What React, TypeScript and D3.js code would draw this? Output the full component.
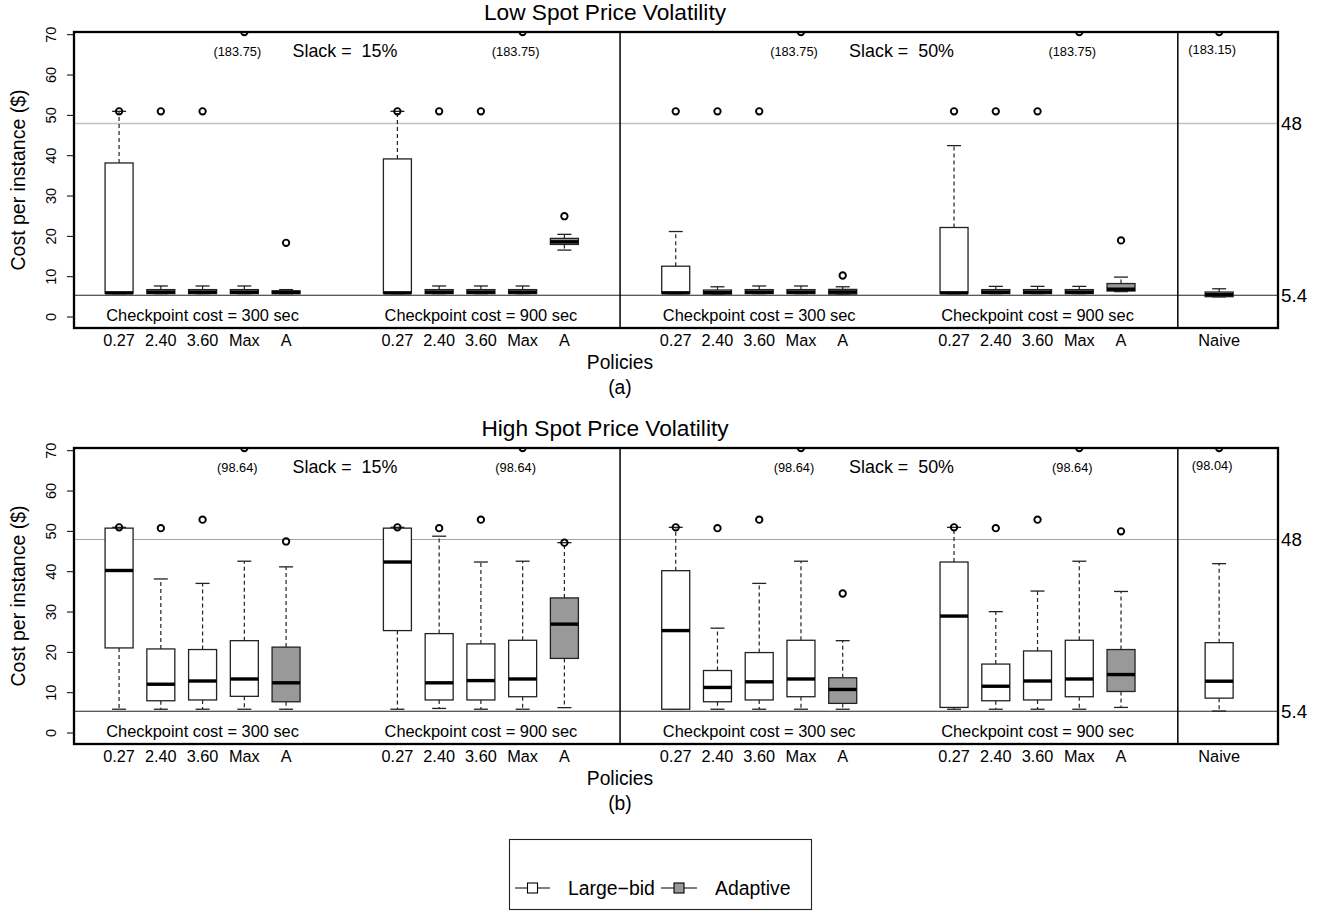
import React from "react";
import * as d3 from "d3";

// ---------- data ----------
const policies = ["0.27", "2.40", "3.60", "Max", "A"];
const checkpointLabels = [
  "Checkpoint cost = 300 sec",
  "Checkpoint cost = 900 sec",
  "Checkpoint cost = 300 sec",
  "Checkpoint cost = 900 sec",
];
const slackLabels = ["Slack =  15%", "Slack =  50%"];
const naiveLabel = "Naive";
const yTicks = [0, 10, 20, 30, 40, 50, 60, 70];
const upperRef = 48;
const lowerRef = 5.4;
const seriesNames = ["Large\u2212bid", "Adaptive"];
const panelTitles = ["Low Spot Price Volatility", "High Spot Price Volatility"];
const panelTags = ["(a)", "(b)"];
const xTitle = "Policies";
const yTitle = "Cost per instance ($)";

// box stats: [lower whisker, Q1, median, Q3, upper whisker]; 4 groups x 5 policies, then Naive
const lowVolStats = [
  [5.8, 5.9, 6.0, 38.2, 51.0],
  [5.8, 5.8, 6.2, 6.8, 7.7],
  [5.8, 5.8, 6.2, 6.8, 7.7],
  [5.8, 5.8, 6.2, 6.8, 7.7],
  [5.8, 5.8, 6.1, 6.5, 6.8],

  [5.8, 5.9, 6.0, 39.2, 51.0],
  [5.8, 5.8, 6.2, 6.8, 7.7],
  [5.8, 5.8, 6.2, 6.8, 7.7],
  [5.8, 5.8, 6.2, 6.8, 7.7],
  [16.6, 18.0, 18.65, 19.5, 20.5],

  [5.8, 5.9, 6.0, 12.6, 21.2],
  [5.7, 5.7, 6.1, 6.7, 7.5],
  [5.8, 5.8, 6.2, 6.8, 7.7],
  [5.8, 5.8, 6.2, 6.8, 7.7],
  [5.7, 5.7, 6.2, 6.85, 7.5],

  [5.8, 5.9, 6.0, 22.2, 42.5],
  [5.8, 5.8, 6.2, 6.8, 7.6],
  [5.8, 5.8, 6.2, 6.8, 7.6],
  [5.8, 5.8, 6.2, 6.8, 7.6],
  [6.3, 6.45, 6.9, 8.3, 9.9],

  [5.0, 5.05, 5.6, 6.2, 7.0],
];
const lowVolOutliers = [
  [51], [51], [51], [183.75], [18.4],
  [51], [51], [51], [183.75], [25.0],
  [51], [51], [51], [183.75], [10.3],
  [51], [51], [51], [183.75], [19.0],
  [183.15],
];

const highVolStats = [
  [5.9, 21.1, 40.3, 50.8, 51.0],
  [5.9, 8.0, 12.1, 20.85, 38.2],
  [5.9, 8.2, 12.9, 20.7, 37.1],
  [5.9, 9.1, 13.4, 22.9, 42.6],
  [5.9, 7.75, 12.45, 21.3, 41.2],

  [5.9, 25.4, 42.4, 50.8, 51.0],
  [6.1, 8.2, 12.45, 24.65, 48.8],
  [5.9, 8.2, 13.0, 22.1, 42.4],
  [5.9, 9.0, 13.4, 23.0, 42.6],
  [6.3, 18.5, 27.0, 33.5, 47.2],

  [5.9, 5.9, 25.4, 40.25, 51.0],
  [5.9, 7.75, 11.3, 15.5, 26.0],
  [5.9, 8.2, 12.7, 19.95, 37.1],
  [5.9, 9.0, 13.4, 23.0, 42.6],
  [5.9, 7.35, 10.8, 13.7, 22.9],

  [5.9, 6.35, 29.0, 42.4, 51.0],
  [5.9, 8.0, 11.6, 17.1, 30.1],
  [5.9, 8.2, 12.9, 20.35, 35.2],
  [5.9, 9.0, 13.4, 23.0, 42.6],
  [6.35, 10.3, 14.5, 20.7, 35.1],

  [5.45, 8.65, 12.85, 22.4, 42.0],
];
const highVolOutliers = [
  [51], [50.8], [52.9], [98.64], [47.5],
  [51], [50.8], [52.9], [98.64], [47.2],
  [51], [50.8], [52.9], [98.64], [34.6],
  [51], [50.8], [52.9], [98.64], [50.0],
  [98.04],
];

// ---------- layout ----------
const W = 1327;
const H = 912;
const FONT = "'Liberation Sans', Arial, Helvetica, sans-serif";
const PLOT_LEFT = 74;
const PLOT_RIGHT = 1278;
const PLOT_H = 296;
const Y_DOMAIN: [number, number] = [-2.72, 70.67];
const BOX_W = 28;
const GROUP_STEP = policies.length + 5 / 3;
const GRAY = "#999999";

const xScale = d3.scaleLinear().domain([-1.08, 27.76]).range([PLOT_LEFT, PLOT_RIGHT]);

function boxPos(i: number): number {
  if (i >= 20) return 26.35;
  const g = Math.floor(i / 5);
  const k = i % 5;
  return g * GROUP_STEP + k;
}

type PanelProps = {
  top: number;
  idx: number;
  stats: number[][];
  outliers: number[][];
  refColor: string;
  refWidth: number;
};

function Panel({ top, idx, stats, outliers, refColor, refWidth }: PanelProps) {
  const bottom = top + PLOT_H;
  const y = d3.scaleLinear().domain(Y_DOMAIN).range([bottom, top]);
  const clipId = `clip${idx}`;
  const dividers = [12, 25.36];
  const titleX = 605;
  const boxes = stats.map((s, i) => {
    const cx = xScale(boxPos(i));
    const [lo, q1, med, q3, hi] = s;
    const adaptive = i < 20 && i % 5 === 4;
    return (
      <g key={i}>
        <line x1={cx} x2={cx} y1={y(q3)} y2={y(hi)} stroke="#222" strokeWidth={1.2} strokeDasharray="4,3" />
        <line x1={cx} x2={cx} y1={y(q1)} y2={y(lo)} stroke="#222" strokeWidth={1.2} strokeDasharray="4,3" />
        <line x1={cx - BOX_W / 4} x2={cx + BOX_W / 4} y1={y(hi)} y2={y(hi)} stroke="#222" strokeWidth={1.3} />
        <line x1={cx - BOX_W / 4} x2={cx + BOX_W / 4} y1={y(lo)} y2={y(lo)} stroke="#222" strokeWidth={1.3} />
        <rect
          x={cx - BOX_W / 2}
          y={y(q3)}
          width={BOX_W}
          height={Math.max(0.5, y(q1) - y(q3))}
          fill={adaptive ? GRAY : "#ffffff"}
          stroke="#222"
          strokeWidth={1.3}
        />
        <line x1={cx - BOX_W / 2} x2={cx + BOX_W / 2} y1={y(med)} y2={y(med)} stroke="#000" strokeWidth={3.4} />
      </g>
    );
  });

  const pts: JSX.Element[] = [];
  const labels: JSX.Element[] = [];
  outliers.forEach((arr, i) => {
    const cx = xScale(boxPos(i));
    arr.forEach((v, j) => {
      const shown = Math.min(v, Y_DOMAIN[1]);
      pts.push(
        <circle key={`${i}-${j}`} cx={cx} cy={y(shown)} r={3.2} fill="none" stroke="#000" strokeWidth={1.9} />
      );
      if (v > Y_DOMAIN[1]) {
        labels.push(
          <text
            key={`l${i}-${j}`}
            x={cx - 7}
            y={top + (i >= 20 ? 21.7 : 23.5)}
            textAnchor="middle"
            fontSize={12.8}
          >
            {`(${v.toFixed(2)})`}
          </text>
        );
      }
    });
  });

  return (
    <g fontFamily={FONT} fill="#000">
      <defs>
        <clipPath id={clipId}>
          <rect x={PLOT_LEFT} y={top} width={PLOT_RIGHT - PLOT_LEFT} height={PLOT_H} />
        </clipPath>
      </defs>
      <text x={titleX} y={top - 12} textAnchor="middle" fontSize={22.7}>
        {panelTitles[idx]}
      </text>
      <g clipPath={`url(#${clipId})`}>
        <line x1={PLOT_LEFT} x2={PLOT_RIGHT} y1={y(upperRef)} y2={y(upperRef)} stroke={refColor} strokeWidth={refWidth} />
        <line x1={PLOT_LEFT} x2={PLOT_RIGHT} y1={y(lowerRef)} y2={y(lowerRef)} stroke="#222" strokeWidth={1.2} />
        {dividers.map((d, i) => (
          <line key={i} x1={xScale(d)} x2={xScale(d)} y1={top} y2={bottom} stroke="#000" strokeWidth={1.5} />
        ))}
        {boxes}
        {pts}
      </g>
      {labels}
      {slackLabels.map((s, i) => (
        <text key={i} x={xScale(5.41 + i * 2 * GROUP_STEP)} y={top + 25} textAnchor="middle" fontSize={17.9} style={{ whiteSpace: "pre" }}>
          {s}
        </text>
      ))}
      {checkpointLabels.map((s, g) => (
        <text key={g} x={xScale(g * GROUP_STEP + 2)} y={bottom - 7.5} textAnchor="middle" fontSize={16.4}>
          {s}
        </text>
      ))}
      <rect x={PLOT_LEFT} y={top} width={PLOT_RIGHT - PLOT_LEFT} height={PLOT_H} fill="none" stroke="#000" strokeWidth={2.3} />
      {/* y axis */}
      {yTicks.map((t) => (
        <g key={t}>
          <line x1={PLOT_LEFT - 7} x2={PLOT_LEFT} y1={y(t)} y2={y(t)} stroke="#000" strokeWidth={1} />
          <text transform={`translate(56,${y(t)}) rotate(-90)`} textAnchor="middle" fontSize={14.5}>
            {t}
          </text>
        </g>
      ))}
      <text transform={`translate(25,${(top + bottom) / 2}) rotate(-90)`} textAnchor="middle" fontSize={19.5}>
        {yTitle}
      </text>
      {/* right labels */}
      {[upperRef, lowerRef].map((v) => (
        <text key={v} x={PLOT_RIGHT + 3} y={y(v) + 6.8} fontSize={18.8}>
          {String(v)}
        </text>
      ))}
      {/* x tick labels */}
      {stats.map((_, i) => (
        <text key={i} x={xScale(boxPos(i))} y={bottom + 18} textAnchor="middle" fontSize={16.3}>
          {i >= 20 ? naiveLabel : policies[i % 5]}
        </text>
      ))}
      <text x={620} y={bottom + 41.3} textAnchor="middle" fontSize={19.3}>
        {xTitle}
      </text>
      <text x={620} y={bottom + 65.5} textAnchor="middle" fontSize={19.3}>
        {panelTags[idx]}
      </text>
    </g>
  );
}

function Legend() {
  const cy = 888;
  const items = [
    { x0: 515, x1: 550, tx: 568, fill: "#ffffff" },
    { x0: 661, x1: 697, tx: 715, fill: GRAY },
  ];
  return (
    <g fontFamily={FONT}>
      <rect x={509.5} y={839.5} width={302} height={70} fill="#fff" stroke="#222" strokeWidth={1.1} />
      {items.map((it, i) => {
        const mx = (it.x0 + it.x1) / 2;
        return (
          <g key={i}>
            <line x1={it.x0} x2={it.x1} y1={cy} y2={cy} stroke="#000" strokeWidth={1.1} />
            <rect x={mx - 5} y={cy - 5} width={10} height={10} fill={it.fill} stroke="#000" strokeWidth={1.1} />
            <text x={it.tx} y={cy + 7} fontSize={19.4} fill="#000">
              {seriesNames[i]}
            </text>
          </g>
        );
      })}
    </g>
  );
}

export default function App() {
  React.useEffect(() => {
    document.body.style.margin = "0";
  }, []);
  return (
    <svg
      width={W}
      height={H}
      viewBox={`0 0 ${W} ${H}`}
      style={{ position: "absolute", left: 0, top: 0, background: "#fff" }}
    >
      <rect x={0} y={0} width={W} height={H} fill="#fff" />
      <Panel top={32} idx={0} stats={lowVolStats} outliers={lowVolOutliers} refColor="#c2c2c2" refWidth={1.6} />
      <Panel top={448} idx={1} stats={highVolStats} outliers={highVolOutliers} refColor="#a3a3a3" refWidth={1.1} />
      <Legend />
    </svg>
  );
}
